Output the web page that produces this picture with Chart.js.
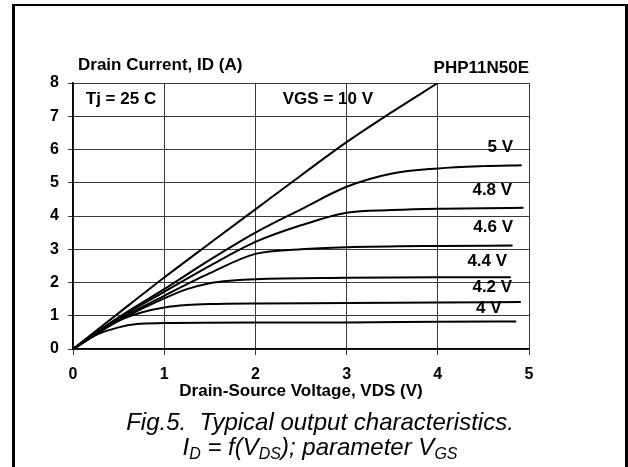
<!DOCTYPE html>
<html>
<head>
<meta charset="utf-8">
<script src="https://cdn.jsdelivr.net/npm/chart.js@4/dist/chart.umd.min.js"></script>
<style>
  body { margin: 0; background: #fff; }
  #wrap { position: relative; width: 628px; height: 467px; overflow: hidden; }
  #frame { position: absolute; left: 12px; top: 4px; width: 610px; height: 480px;
           border-left: 3px solid #000; border-right: 3px solid #000; border-top: 2px solid #000; }
  #chart { position: absolute; left: 0; top: 0; }
  #caption { position: absolute; left: 0; width: 640px; top: 409px; text-align: center;
             font: italic 24px "Liberation Sans", Arial, sans-serif; line-height: 25px;
             white-space: pre; color: #000; }
  #caption sub { font-size: 16px; vertical-align: -4px; line-height: 0; }
</style>
</head>
<body>
<div id="wrap">
  <div id="frame"></div>
  <canvas id="chart" width="628" height="467"></canvas>
  <div id="caption">Fig.5.  Typical output characteristics.
I<sub>D</sub> = f(V<sub>DS</sub>); parameter V<sub>GS</sub></div>
</div>
<script>
// output characteristics, ID (A) vs VDS (V), one curve per VGS
var xTicks = [0, 1, 2, 3, 4, 5];
var yTicks = [0, 1, 2, 3, 4, 5, 6, 7, 8];

var vds10 = [0, 0.5, 1, 1.5, 2, 2.5, 3, 3.5, 4];
var id10  = [0, 1.08, 2.15, 3.18, 4.2, 5.22, 6.22, 7.13, 8.0];

var vds50 = [0, 0.5, 1, 1.5, 2, 2.5, 3, 3.5, 4, 4.5, 4.92];
var id50  = [0, 0.95, 1.8, 2.68, 3.5, 4.2, 4.88, 5.28, 5.43, 5.5, 5.53];

var vds48 = [0, 0.5, 1, 1.5, 2, 2.5, 3, 3.5, 4, 4.5, 4.94];
var id48  = [0, 0.92, 1.72, 2.5, 3.22, 3.72, 4.1, 4.18, 4.22, 4.23, 4.25];

var vds46 = [0, 0.5, 1, 1.5, 2, 2.5, 3, 4, 4.82];
var id46  = [0, 0.88, 1.6, 2.28, 2.86, 3.0, 3.06, 3.1, 3.11];

var vds44 = [0, 0.5, 1, 1.25, 1.5, 1.75, 2, 3, 4, 4.8];
var id44  = [0, 0.85, 1.52, 1.8, 1.98, 2.06, 2.1, 2.14, 2.16, 2.16];

var vds42 = [0, 0.5, 0.75, 1, 1.25, 1.5, 2, 3, 4, 4.91];
var id42  = [0, 0.85, 1.1, 1.25, 1.32, 1.35, 1.37, 1.38, 1.4, 1.41];

var vds40 = [0, 0.25, 0.5, 0.7, 1, 2, 3, 4, 4.86];
var id40  = [0, 0.42, 0.65, 0.75, 0.78, 0.8, 0.8, 0.82, 0.83];

var vgsNames = ['10 V', '5 V', '4.8 V', '4.6 V', '4.4 V', '4.2 V', '4 V'];
var vdsSets = [vds10, vds50, vds48, vds46, vds44, vds42, vds40];
var idSets  = [id10, id50, id48, id46, id44, id42, id40];

// text inside the plot, placed in axis units
var notes = [
  { text: '5 V',        x: 4.825, y: 6.08, align: 'right' },
  { text: '4.8 V',      x: 4.815, y: 4.78, align: 'right' },
  { text: '4.6 V',      x: 4.825, y: 3.67, align: 'right' },
  { text: '4.4 V',      x: 4.76,  y: 2.65, align: 'right' },
  { text: '4.2 V',      x: 4.815, y: 1.86, align: 'right' },
  { text: '4 V',        x: 4.70,  y: 1.23, align: 'right' },
  { text: 'Tj = 25 C',  x: 0.14,  y: 7.52, align: 'left' },
  { text: 'VGS = 10 V', x: 2.30,  y: 7.52, align: 'left' }
];

var FONT = '"Liberation Sans", Arial, sans-serif';

var datasets = vgsNames.map(function(name, i) {
  return {
    label: name,
    data: vdsSets[i].map(function(v, j) { return { x: v, y: idSets[i][j] }; }),
    showLine: true,
    borderColor: '#000',
    borderWidth: 2,
    pointRadius: 0,
    cubicInterpolationMode: 'monotone'
  };
});

var textPlugin = {
  id: 'texts',
  afterDatasetsDraw: function(chart) {
    var ctx = chart.ctx, xs = chart.scales.x, ys = chart.scales.y;
    ctx.save();
    ctx.fillStyle = '#000';
    ctx.textBaseline = 'middle';
    ctx.font = 'bold 17px ' + FONT;
    notes.forEach(function(n) {
      ctx.textAlign = n.align;
      ctx.fillText(n.text, xs.getPixelForValue(n.x), ys.getPixelForValue(n.y));
    });
    // y axis title above the plot, part number at the right
    ctx.textAlign = 'left';
    ctx.fillText('Drain Current, ID (A)', xs.left + 5, ys.top - 18);
    ctx.textAlign = 'right';
    ctx.fillText('PHP11N50E', xs.right, ys.top - 15);
    ctx.restore();
  }
};

new Chart(document.getElementById('chart'), {
  type: 'scatter',
  data: { datasets: datasets },
  plugins: [textPlugin],
  options: {
    responsive: false,
    animation: false,
    layout: { padding: { left: 0, top: 83, right: 99, bottom: 0 } },
    plugins: { legend: { display: false }, tooltip: { enabled: false } },
    scales: {
      x: {
        type: 'linear', min: 0, max: 5,
        afterBuildTicks: function(s) { s.ticks = xTicks.map(function(v) { return { value: v }; }); },
        afterFit: function(s) { s.height = 118; },
        ticks: { color: '#000', padding: 10, font: { family: FONT, size: 16, weight: 'bold' } },
        grid: { color: '#3a3a3a', lineWidth: 1, tickLength: 6 },
        border: { color: '#000', width: 1.5 },
        title: {
          display: true, text: 'Drain-Source Voltage, VDS (V)', color: '#000',
          font: { family: FONT, size: 17, weight: 'bold' }, padding: { top: 0, bottom: 65 }
        }
      },
      y: {
        type: 'linear', min: 0, max: 8,
        afterBuildTicks: function(s) { s.ticks = yTicks.map(function(v) { return { value: v }; }); },
        afterFit: function(s) { s.width = 73; },
        ticks: { color: '#000', padding: 9, font: { family: FONT, size: 16, weight: 'bold' } },
        grid: { color: '#3a3a3a', lineWidth: 1, tickLength: 5 },
        border: { color: '#000', width: 1.5 }
      }
    }
  }
});
</script>
</body>
</html>
